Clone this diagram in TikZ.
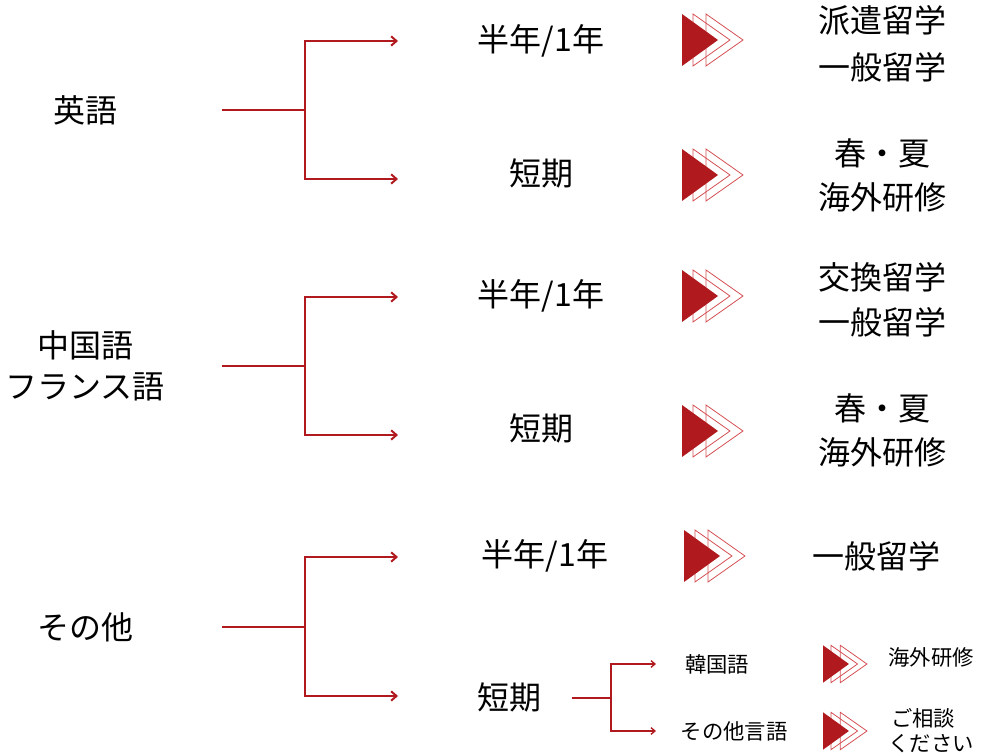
\documentclass[tikz,border=0pt]{standalone}
\usepackage{fontspec}
\setmainfont{Noto Sans CJK JP}
\usetikzlibrary{arrows.meta}
\definecolor{deepred}{RGB}{176,26,30}
\definecolor{palered}{RGB}{212,80,84}

\begin{document}
\begin{tikzpicture}[x=0.75pt,y=-0.75pt,
	branch/.style={draw=deepred,line width=1.5pt,-{Straight Barb[length=4pt,width=7pt]}},
	twig/.style={draw=deepred,line width=1pt,-{Straight Barb[length=3pt,width=5pt]}},
	big/.style={font=\fontsize{24}{28}\selectfont,inner sep=0pt},
	small/.style={font=\fontsize{16}{19}\selectfont,inner sep=0pt}]
\useasboundingbox (0,0) rectangle (988,755);

% left labels
\node[big] (en) at (85,110) {英語};
\node[big] (cn) at (85,345) {中国語};
\node[big] (fr) at (85,387) {フランス語};
\node[big] (ot) at (85,627) {その他};

% branches
\foreach \g/\y/\a/\b in {en/110/41/179, cf/366/297/435, ot/627/557/696}{
	\coordinate (\g-s) at (222,\y);
	\coordinate (\g-j) at (305,\y);
	\coordinate (\g-a) at (398,\a);
	\coordinate (\g-b) at (398,\b);
	\draw[branch] (\g-s) -- (\g-j) |- (\g-a);
	\draw[branch] (\g-j) |- (\g-b);
}

% middle column
\node[big] (en-long) at (541,41) {半年/1年};
\node[big] (en-short) at (541,173) {短期};
\node[big] (cf-long) at (541,296) {半年/1年};
\node[big] (cf-short) at (541,428) {短期};
\node[big] (ot-long) at (545,556) {半年/1年};
\node[big] (ot-short) at (509,697) {短期};

% short trips of other languages
\coordinate (sub-s) at (572,698);
\coordinate (sub-j) at (611,698);
\coordinate (sub-a) at (656,664);
\coordinate (sub-b) at (656,731);
\draw[twig] (sub-s) -- (sub-j) |- (sub-a);
\draw[twig] (sub-j) |- (sub-b);
\node[small] (kr) at (717,664) {韓国語};
\node[small] (etc) at (734,731) {その他言語};

% triangle icons
\foreach \x/\y/\s in {682/40/1, 682/175/1, 682/296/1, 682/431/1, 684/556/1, 823/664/0.72, 823/731/0.72}{
	\begin{scope}[shift={(\x,\y)},scale=\s]
		\draw[palered,line width=0.6pt] (24,-26) -- (61,0) -- (24,26) -- cycle;
		\draw[palered,line width=0.6pt] (11,-26) -- (48,0) -- (11,26) -- cycle;
		\fill[deepred] (0,-26) -- (36,0) -- (0,26) -- cycle;
	\end{scope}
}

% right column
\node[big] (r1a) at (882,20) {派遣留学};
\node[big] (r1b) at (882,67) {一般留学};
\node[big] (r2a) at (882,153) {春・夏};
\node[big] (r2b) at (882,197) {海外研修};
\node[big] (r3a) at (882,277) {交換留学};
\node[big] (r3b) at (882,322) {一般留学};
\node[big] (r4a) at (882,408) {春・夏};
\node[big] (r4b) at (882,452) {海外研修};
\node[big] (r5) at (876,556) {一般留学};
\node[small] (r6) at (931,657) {海外研修};
\node[small] (r7a) at (923,718) {ご相談};
\node[small] (r7b) at (931,744) {ください};

\end{tikzpicture}
\end{document}
